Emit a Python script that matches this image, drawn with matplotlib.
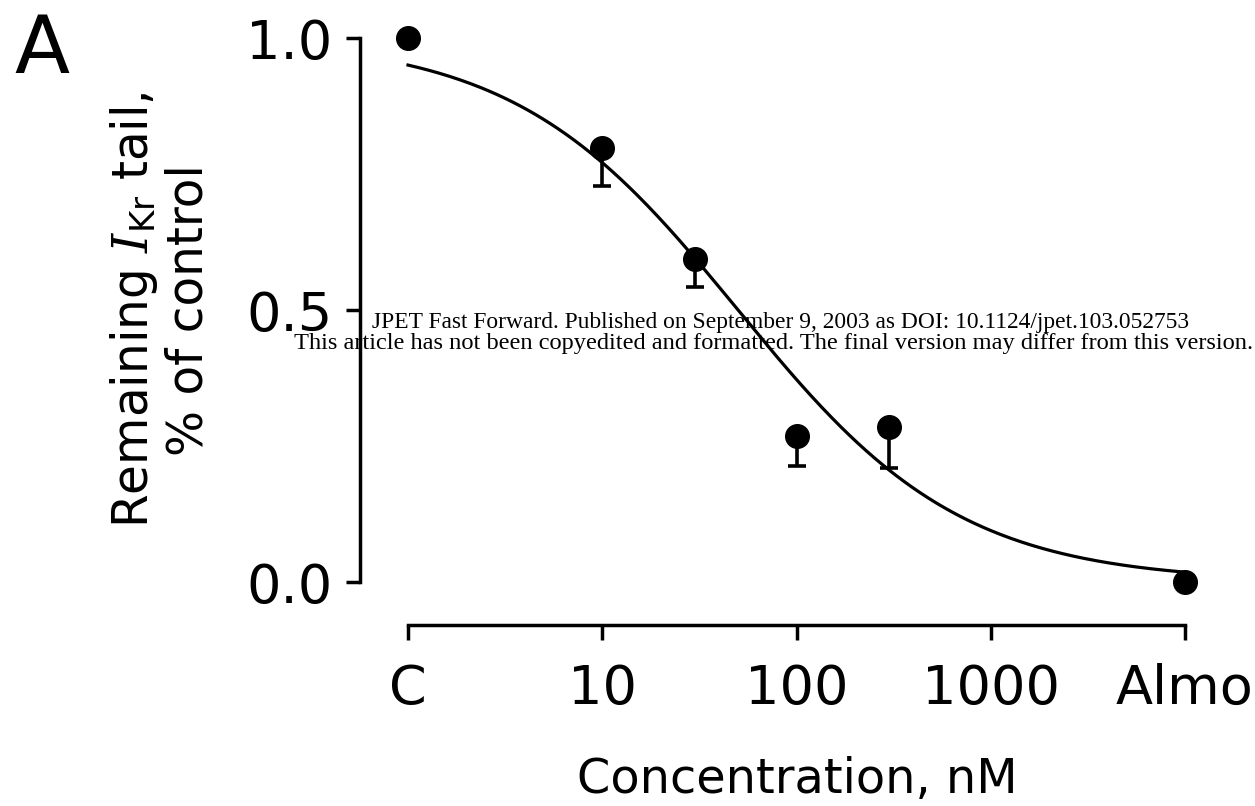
import numpy as np
import matplotlib
matplotlib.use("Agg")
import matplotlib.pyplot as plt

plt.rcParams['font.family'] = ['DejaVu Sans']
plt.rcParams['mathtext.fontset'] = 'custom'
plt.rcParams['mathtext.rm'] = 'DejaVu Sans'
plt.rcParams['mathtext.it'] = 'DejaVu Serif:italic'

# data (x in decades: C = 0, 10 nM = 1, ..., Almo = 4)
tick_labels = ['C', '10', '100', '1000', 'Almo']
tick_pos = [0, 1, 2, 3, 4]
conc_pos = [0, 1, np.log10(30), 2, np.log10(300), 4]
remaining = [1.0, 0.798, 0.594, 0.268, 0.285, 0.0]
err_low = [0.0, 0.070, 0.052, 0.055, 0.075, 0.0]

# Hill fit drawn through the points
IC50_NM = 50.0
HILL_N = 0.754

fig = plt.figure(figsize=(12.55, 8.06), dpi=100)
ax = fig.add_axes([360 / 1255, 1 - 582 / 806, 840 / 1255, 544 / 806])

x_fit = np.linspace(0, 4, 300)
y_fit = 1 / (1 + (10 ** x_fit / IC50_NM) ** HILL_N)
ax.plot(x_fit, y_fit, color='black', lw=2.3, clip_on=False)

# lower error bars only
ax.errorbar(conc_pos, np.array(remaining) - np.array(err_low) / 2,
            yerr=np.array(err_low) / 2, fmt='none', ecolor='black',
            elinewidth=2.6, capsize=0, clip_on=False)
ax.errorbar(conc_pos, remaining, yerr=[err_low, np.zeros(len(err_low))],
            fmt='none', ecolor='black', elinewidth=0, capsize=6.5,
            capthick=2.6, clip_on=False)
for cl in ax.lines[-2:]:
    if np.allclose(cl.get_ydata(), remaining):
        cl.set_visible(False)
ax.plot(conc_pos, remaining, 'o', color='black', ms=17, clip_on=False, zorder=3)

ax.set_xlim(-48 / 194.25, 792 / 194.25)
ax.set_ylim(0, 1)

for s in ['top', 'right']:
    ax.spines[s].set_visible(False)
ax.spines['left'].set_bounds(0, 1)
ax.spines['bottom'].set_bounds(0, 4)
ax.spines['bottom'].set_position(('outward', 31))
ax.spines['left'].set_linewidth(2.5)
ax.spines['bottom'].set_linewidth(2.5)

ax.set_yticks([0, 0.5, 1.0])
ax.set_yticklabels(['0.0', '0.5', '1.0'])
ax.set_xticks(tick_pos)
ax.set_xticklabels(tick_labels)
ax.tick_params(axis='y', length=10, width=2.5, labelsize=39, pad=10)
ax.tick_params(axis='x', length=11, width=2.5, labelsize=39, pad=16)

ax.set_xlabel('Concentration, nM', fontsize=34.5, va='baseline')
ax.xaxis.set_label_coords((797 - 360) / 840, (582 - 793) / 544)
ax.set_ylabel('Remaining $I_{\\mathrm{Kr}}$ tail,\n% of control', fontsize=35,
              labelpad=24, linespacing=1.12)

fig.text(14 / 1255, 1 - 12 / 806, 'A', fontsize=58, va='top', ha='left')

fig.text(781 / 1255, 1 - 323 / 806,
         'JPET Fast Forward. Published on September 9, 2003 as DOI: 10.1124/jpet.103.052753',
         family='Liberation Serif', fontsize=16.9, ha='center', va='center')
fig.text(1253 / 1255, 1 - 344 / 806,
         'This article has not been copyedited and formatted. The final version may differ from this version.',
         family='Liberation Serif', fontsize=17.6, ha='right', va='center')

fig.savefig('out.png', dpi=100)
